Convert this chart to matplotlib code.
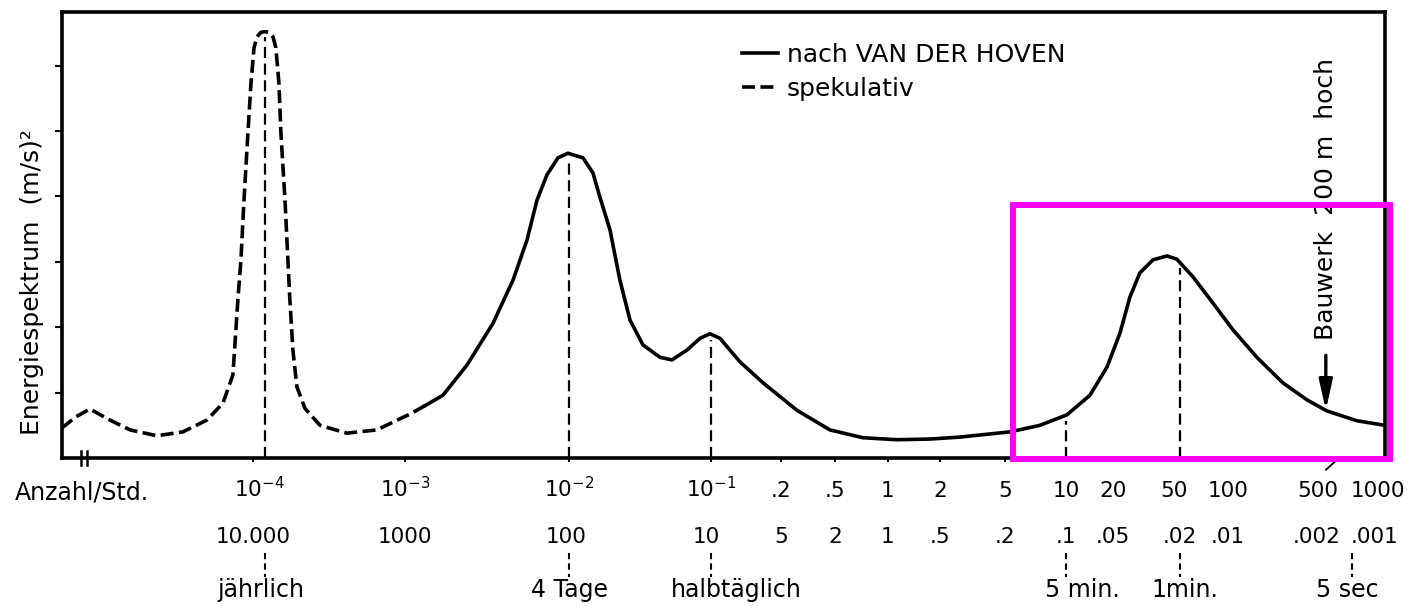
import numpy as np
import matplotlib
matplotlib.use('Agg')
import matplotlib.pyplot as plt
from matplotlib.patches import Rectangle

plt.rcParams['font.family'] = ['DejaVu Sans']
plt.rcParams['mathtext.default'] = 'regular'

# Spectrum: log10(frequency in cycles/hour) and energy (one unit per y tick)
spek_lgf = [-5.257, -5.165, -5.073, -4.941, -4.809, -4.632, -4.461, -4.303, -4.197, -4.132,
            -4.099, -4.079, -4.059, -4.033, -4.013, -3.993, -3.974, -3.947, -3.921, -3.895,
            -3.868, -3.849, -3.829, -3.816, -3.789, -3.770, -3.757, -3.737, -3.711, -3.658,
            -3.559, -3.382, -3.184, -3.033, -2.970, -2.878]
spek_e = [0.46, 0.63, 0.75, 0.58, 0.43, 0.34, 0.40, 0.58, 0.84, 1.27,
          2.42, 3.03, 3.94, 4.97, 5.73, 6.27, 6.44, 6.51, 6.52, 6.51,
          6.44, 6.27, 5.73, 4.97, 3.94, 3.03, 2.42, 1.65, 1.09, 0.76,
          0.50, 0.38, 0.43, 0.60, 0.67, 0.80]

hoven_lgf = [-2.878, -2.768, -2.622, -2.463, -2.341, -2.256, -2.195, -2.134, -2.067, -2.006,
             -1.901, -1.831, -1.782, -1.711, -1.641, -1.570, -1.479, -1.359, -1.275, -1.169,
             -1.077, -1.007, -0.961, -0.875, -0.776, -0.581, -0.338, -0.142, 0.052, 0.243,
             0.423, 0.724, 0.872, 1.006, 1.154, 1.263, 1.343, 1.402, 1.461, 1.539,
             1.622, 1.681, 1.781, 1.906, 2.030, 2.171, 2.329, 2.500, 2.642, 2.831, 3.0]
hoven_e = [0.80, 0.96, 1.42, 2.06, 2.72, 3.33, 3.94, 4.33, 4.59, 4.66,
           4.59, 4.36, 3.99, 3.49, 2.72, 2.11, 1.73, 1.54, 1.50, 1.65,
           1.83, 1.90, 1.83, 1.47, 1.15, 0.73, 0.43, 0.31, 0.28, 0.29,
           0.32, 0.40, 0.50, 0.66, 0.96, 1.39, 1.91, 2.46, 2.83, 3.03,
           3.09, 3.04, 2.77, 2.37, 1.96, 1.54, 1.15, 0.89, 0.72, 0.57, 0.50]

# Axis labels: frequency (per hour) and period (hours)
tick_freq = [1e-4, 1e-3, 1e-2, 1e-1, .2, .5, 1, 2, 5, 10, 20, 50, 100, 500, 1000]
freq_labels = ['$10^{-4}$', '$10^{-3}$', '$10^{-2}$', '$10^{-1}$', '.2', '.5', '1', '2', '5',
               '10', '20', '50', '100', '500', '1000']
period_labels = ['10.000', '1000', '100', '10', '5', '2', '1', '.5', '.2', '.1', '.05', '.02',
                 '.01', '.002', '.001']

# Marked peaks / periods
marker_freq = [1.2e-4, 1e-2, 1e-1, 10, 50]
event_freq = [1.2e-4, 1e-2, 1e-1, 10, 50, 632]
event_labels = ['jährlich', '4 Tage', 'halbtäglich', '5 min.', '1min.', '5 sec']
bauwerk_freq = 431

# The hand-drawn log axis is not evenly spaced: map log10(f) onto its drawn positions
axis_lgf = [-7, -5.257, -4, -3, -2, -1, np.log10(.2), np.log10(.5), 0, np.log10(2), np.log10(5),
            1, np.log10(20), np.log10(50), 2, np.log10(200), np.log10(500), 3, 5]
axis_pos = [-203, 62, 253, 405, 569, 711, 781, 835, 888, 940, 1005,
            1066, 1113, 1180, 1228, 1279, 1335, 1385, 1717]


def fwd(x):
    return np.interp(np.log10(np.maximum(np.asarray(x, dtype=float), 1e-30)), axis_lgf, axis_pos)


def inv(p):
    return 10 ** np.interp(np.asarray(p, dtype=float), axis_pos, axis_lgf)


fig = plt.figure(figsize=(14.11, 6.06), dpi=100)
ax = fig.add_axes([0.0439, 0.2442, 0.9376, 0.7360])
ax.set_xscale('function', functions=(fwd, inv))

spek_f = 10 ** np.array(spek_lgf)
hoven_f = 10 ** np.array(hoven_lgf)

l_spek, = ax.plot(spek_f, spek_e, color='black', lw=2.6, dashes=(3.6, 1.5), label='spekulativ')
l_hoven, = ax.plot(hoven_f, hoven_e, color='black', lw=2.6, solid_joinstyle='round',
                   label='nach VAN DER HOVEN')

# dashed verticals at the peaks
all_lgf = np.concatenate([spek_lgf, hoven_lgf])
all_e = np.concatenate([spek_e, hoven_e])
for f in marker_freq:
    top = np.interp(np.log10(f), all_lgf, all_e) - 0.08
    ax.plot([f, f], [0, top], color='black', lw=1.6, dashes=(5, 2.5))

ax.set_xlim(10 ** -5.257, 1000)
ax.set_ylim(0, 6.82)

# ticks only, labels drawn as text rows
ax.set_xticks(tick_freq + [200])
ax.set_xticklabels([])
ax.xaxis.set_minor_locator(matplotlib.ticker.NullLocator())
ax.set_yticks([1, 2, 3, 4, 5, 6])
ax.set_yticklabels([])
ax.tick_params(axis='y', direction='out', length=5, width=1.5)
ax.tick_params(axis='x', direction='out', length=3, width=1.5)
for s in ax.spines.values():
    s.set_linewidth(2.6)

xt = ax.get_xaxis_transform()
row1_dx = {'500': -17, '1000': -7, '$10^{-4}$': 6, '50': -6}
row2_dx = {'.002': -18, '.001': -10, '10': -5, '100': -3}
for f, lab, per in zip(tick_freq, freq_labels, period_labels):
    ax.annotate(lab, xy=(f, -0.087), xycoords=xt, xytext=(row1_dx.get(lab, 0), 0),
                textcoords='offset pixels', ha='center', va='baseline', fontsize=15.5)
    ax.annotate(per, xy=(f, -0.19), xycoords=xt, xytext=(row2_dx.get(per, 0), 0),
                textcoords='offset pixels', ha='center', va='baseline', fontsize=15.5)

row3_dx = [-4, 1, 25, 16, 5, -4]
for f, lab, dx in zip(event_freq, event_labels, row3_dx):
    ax.plot([f, f], [-0.213, -0.267], transform=xt, clip_on=False, color='black',
            lw=1.5, dashes=(3, 2))
    ax.annotate(lab, xy=(f, -0.312), xycoords=xt, xytext=(dx, 0),
                textcoords='offset pixels', ha='center', va='baseline', fontsize=17)

fig.text(15 / 1411, 1 - 499 / 606, 'Anzahl/Std.', ha='left', va='baseline', fontsize=17)
fig.text(32 / 1411, 1 - 282 / 606, 'Energiespektrum  (m/s)²', rotation=90,
         ha='center', va='center', fontsize=18)

# axis break marks
for lg in [-5.132, -5.092]:
    ax.plot([10 ** lg, 10 ** lg], [-0.1, 0.1], color='black', lw=1.8, clip_on=False)
ax.plot([10 ** 2.635, 10 ** 2.717], [-0.18, -0.015], color='black', lw=1.3, clip_on=False)

# building annotation
tip = np.interp(np.log10(bauwerk_freq), all_lgf, all_e)
ax.annotate('', xy=(bauwerk_freq, tip), xytext=(bauwerk_freq, 1.57),
            arrowprops=dict(arrowstyle='-|>,head_length=0.9,head_width=0.2', color='black',
                            lw=2.4, mutation_scale=20, shrinkA=0, shrinkB=0))
ax.text(bauwerk_freq, 3.96, 'Bauwerk  200 m  hoch', rotation=90, ha='center', va='center',
        fontsize=18)

ax.legend(handles=[l_hoven, l_spek], loc='upper left', bbox_to_anchor=(0.514, 0.93),
          frameon=False, fontsize=18, borderaxespad=0, borderpad=0, handlelength=1.45,
          handletextpad=0.35, labelspacing=0.4)

# highlight box
ax.add_patch(Rectangle((0.7188, -0.002), 0.285, 0.570, transform=ax.transAxes, fill=False,
                       ec='#ff00ff', lw=4.3, clip_on=False, joinstyle='miter', zorder=5))

fig.savefig('out.png', dpi=100)
